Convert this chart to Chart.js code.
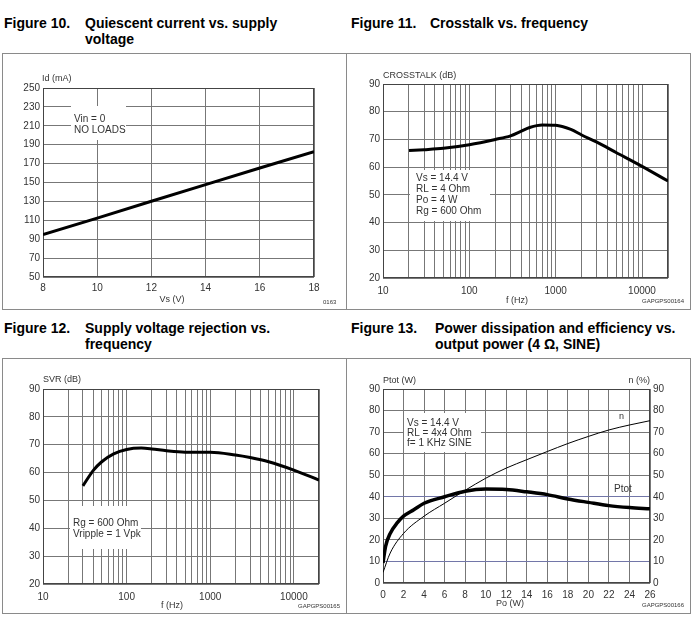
<!DOCTYPE html>
<html>
<head>
<meta charset="utf-8">
<script src="https://cdn.jsdelivr.net/npm/chart.js@4.4.1/dist/chart.umd.min.js"></script>
<style>
  body { margin: 0; background: #fff; width: 695px; height: 618px; position: relative; overflow: hidden;
         font-family: "Liberation Sans", Arial, sans-serif; }
  .title { position: absolute; font-weight: bold; font-size: 14px; line-height: 16px; color: #000; white-space: nowrap; }
  .panel { position: absolute; border: 1px solid #8a8a8a; box-sizing: border-box; }
  canvas { position: absolute; }
</style>
</head>
<body>
<div class="title" style="left:4px;top:15px">Figure 10.</div>
<div class="title" style="left:85px;top:15px">Quiescent current vs. supply<br>voltage</div>
<div class="title" style="left:351px;top:15px">Figure 11.</div>
<div class="title" style="left:430px;top:15px">Crosstalk vs. frequency</div>
<div class="title" style="left:4px;top:320px">Figure 12.</div>
<div class="title" style="left:85px;top:320px">Supply voltage rejection vs.<br>frequency</div>
<div class="title" style="left:351px;top:320px">Figure 13.</div>
<div class="title" style="left:435px;top:320px">Power dissipation and efficiency vs.<br>output power (4 &Omega;, SINE)</div>

<div class="panel" style="left:2px;top:53px;width:345px;height:257px"></div>
<div class="panel" style="left:346px;top:53px;width:345px;height:257px"></div>
<div class="panel" style="left:2px;top:358px;width:345px;height:256px"></div>
<div class="panel" style="left:346px;top:358px;width:345px;height:256px"></div>

<canvas id="fig10"></canvas>
<canvas id="fig11"></canvas>
<canvas id="fig12"></canvas>
<canvas id="fig13"></canvas>

<script>
// Figure 10 - quiescent current
const vsVolts = [8, 10, 12, 14, 16, 18];
const idCurrent = [95, 112.3, 130.2, 147.8, 165.3, 182.6];
const vsTicks = [8, 10, 12, 14, 16, 18];
const idTicks = [50, 70, 90, 110, 130, 150, 170, 190, 210, 230, 250];

// Figure 11 - crosstalk
const ctFreq = [20, 30, 50, 100, 200, 300, 400, 500, 700, 1000, 1500, 2000, 3000, 5000, 10000, 20000];
const ctDb = [66, 66.3, 66.8, 68.1, 70, 71.3, 73, 74.3, 75.2, 75.1, 73.6, 71.6, 69, 65.3, 60.3, 55];

// Figure 12 - SVR
const svrFreq = [30, 40, 50, 70, 100, 150, 200, 300, 500, 1000, 2000, 3000, 5000, 10000, 20000];
const svrDb = [55.2, 60.8, 63.8, 66.7, 68.3, 68.8, 68.5, 67.8, 67.3, 67.3, 66.3, 65.4, 63.9, 60.9, 57.3];

const dbTicks = [20, 30, 40, 50, 60, 70, 80, 90];
const decadeLabels = [10, 100, 1000, 10000];

// Figure 13 - dissipation / efficiency
const poWatts = [0, 0.25, 0.7, 1.4, 2, 3, 4, 6, 8, 10, 12, 14, 16, 18, 20, 22, 24, 26];
const ptotW = [9.3, 17, 23, 28, 31, 34, 37, 40, 42.6, 43.6, 43.4, 42.3, 41, 39, 37.4, 35.9, 35, 34.4];
const etaPo = [0, 0.7, 2, 4, 6, 8, 10, 12, 14, 16, 18, 20, 22, 24, 26];
const etaPct = [4.9, 13.9, 23, 31, 37, 43, 48.6, 53.3, 57.2, 61, 64.7, 68, 71, 73.3, 75.3];
const poTicks = [0, 2, 4, 6, 8, 10, 12, 14, 16, 18, 20, 22, 24, 26];
const pctTicks = [0, 10, 20, 30, 40, 50, 60, 70, 80, 90];

const FONT = '"Liberation Sans", Arial, sans-serif';
const GRID = '#777';
const FRAME = '#444';
const INK = '#333';

// grid lines 1..9 per decade, 10 .. 20000
const logGrid = [];
decadeLabels.forEach(d => {
  for (let m = 1; m <= 9; m++) if (d * m <= 20000) logGrid.push(d * m);
});

const pts = (xs, ys) => xs.map((x, i) => ({ x, y: ys[i] }));

const notes = {
  id: 'notes',
  beforeDatasetsDraw(chart, args, o) {
    const c = chart.ctx, a = chart.chartArea;
    c.save();
    c.fillStyle = '#fff';
    (o.boxes || []).forEach(b => c.fillRect(b[0] - o.ox, b[1] - o.oy, b[2] - b[0], b[3] - b[1]));
    c.strokeStyle = FRAME;
    c.lineWidth = 1;
    c.strokeRect(Math.round(a.left) + 0.5, Math.round(a.top) + 0.5,
                 Math.round(a.right - a.left) - 1, Math.round(a.bottom - a.top) - 1);
    c.restore();
  },
  afterDraw(chart, args, o) {
    const c = chart.ctx;
    c.save();
    c.textBaseline = 'middle';
    (o.texts || []).forEach(t => {
      c.font = (t.size || 10) + 'px ' + FONT;
      c.fillStyle = t.color || INK;
      c.textAlign = t.align || 'left';
      c.fillText(t.t, t.x - o.ox, t.y - o.oy);
    });
    c.restore();
  }
};

function plot(id, panel, area, datasets, scales, noteOpts) {
  const cv = document.getElementById(id);
  cv.style.left = panel.x + 'px';
  cv.style.top = panel.y + 'px';
  cv.width = panel.w;
  cv.height = panel.h;
  const L = area.l - panel.x, T = area.t - panel.y;
  const R = panel.x + panel.w - area.r, B = panel.y + panel.h - area.b;
  scales.x.afterFit = s => { s.height = B; s.paddingLeft = 0; s.paddingRight = 0; };
  scales.y.afterFit = s => { s.width = L; s.paddingTop = 0; s.paddingBottom = 0; };
  if (scales.y2) scales.y2.afterFit = s => { s.width = R; s.paddingTop = 0; s.paddingBottom = 0; };
  noteOpts.ox = panel.x;
  noteOpts.oy = panel.y;
  return new Chart(cv, {
    type: 'line',
    data: { datasets },
    options: {
      responsive: false,
      animation: false,
      devicePixelRatio: 1,
      layout: { padding: { left: 0, top: T, right: scales.y2 ? 0 : R, bottom: 0 } },
      elements: { point: { radius: 0 } },
      plugins: { legend: { display: false }, tooltip: { enabled: false }, notes: noteOpts },
      scales
    },
    plugins: [notes]
  });
}

Chart.defaults.font.family = FONT;
Chart.defaults.font.size = 10;
Chart.defaults.color = INK;

const linAxis = (min, max, ticks, pad, extra) => Object.assign({
  type: 'linear', min, max,
  afterBuildTicks: s => { s.ticks = ticks.map(v => ({ value: v })); },
  ticks: { padding: pad, autoSkip: false, maxRotation: 0, color: INK, font: { size: 10 } },
  grid: { color: GRID, drawTicks: false },
  border: { display: false }
}, extra || {});

const logAxis = (pad) => ({
  type: 'logarithmic', min: 10, max: 20000,
  afterBuildTicks: s => { s.ticks = logGrid.map(v => ({ value: v })); },
  ticks: {
    padding: pad, autoSkip: false, maxRotation: 0, color: INK, font: { size: 10 },
    callback: v => decadeLabels.includes(v) ? String(v) : ''
  },
  grid: { color: GRID, drawTicks: false },
  border: { display: false }
});

// Figure 10
plot('fig10', { x: 2, y: 53, w: 344, h: 256 }, { l: 43, t: 88, r: 314, b: 277 },
  [{ data: pts(vsVolts, idCurrent), borderColor: '#000', borderWidth: 3, tension: 0 }],
  { x: linAxis(8, 18, vsTicks, 5), y: linAxis(50, 250, idTicks, 3) },
  {
    boxes: [[71, 106, 126, 140]],
    texts: [
      { t: 'Id (mA)', x: 42, y: 79, size: 9 },
      { t: 'Vs (V)', x: 172, y: 300, size: 9, align: 'center' },
      { t: '0163', x: 323, y: 302, size: 6 },
      { t: 'Vin = 0', x: 74, y: 119 },
      { t: 'NO LOADS', x: 74, y: 130 }
    ]
  });

// Figure 11
plot('fig11', { x: 346, y: 53, w: 344, h: 256 }, { l: 383, t: 84, r: 668, b: 278 },
  [{ data: pts(ctFreq, ctDb), borderColor: '#000', borderWidth: 3, cubicInterpolationMode: 'monotone' }],
  { x: logAxis(7), y: linAxis(20, 90, dbTicks, 3) },
  {
    boxes: [[410, 170, 490, 221]],
    texts: [
      { t: 'CROSSTALK (dB)', x: 383, y: 76, size: 9 },
      { t: 'f (Hz)', x: 517, y: 301, size: 9, align: 'center' },
      { t: 'GAPGPS00164', x: 642, y: 301, size: 6 },
      { t: 'Vs = 14.4 V', x: 416, y: 178 },
      { t: 'RL = 4 Ohm', x: 416, y: 189 },
      { t: 'Po = 4 W', x: 416, y: 200 },
      { t: 'Rg = 600 Ohm', x: 416, y: 211 }
    ]
  });

// Figure 12
plot('fig12', { x: 2, y: 358, w: 344, h: 255 }, { l: 43, t: 389, r: 319, b: 584 },
  [{ data: pts(svrFreq, svrDb), borderColor: '#000', borderWidth: 3, cubicInterpolationMode: 'monotone' }],
  { x: logAxis(7), y: linAxis(20, 90, dbTicks, 3) },
  {
    boxes: [[70, 506, 141, 549]],
    texts: [
      { t: 'SVR (dB)', x: 43, y: 380, size: 9 },
      { t: 'f (Hz)', x: 172, y: 606, size: 9, align: 'center' },
      { t: 'GAPGPS00165', x: 298, y: 606, size: 6 },
      { t: 'Rg = 600 Ohm', x: 73, y: 523 },
      { t: 'Vripple = 1 Vpk', x: 73, y: 534 }
    ]
  });

// Figure 13
const p4Grid = linAxis(0, 90, pctTicks, 3);
p4Grid.grid = {
  drawTicks: false,
  color: ctx => (ctx.tick && (ctx.tick.value === 40 || ctx.tick.value === 10)) ? '#7276a8' : GRID
};
plot('fig13', { x: 346, y: 358, w: 344, h: 255 }, { l: 383, t: 389, r: 650, b: 583 },
  [
    { data: pts(poWatts, ptotW), borderColor: '#000', borderWidth: 3.5, cubicInterpolationMode: 'monotone', yAxisID: 'y' },
    { data: pts(etaPo, etaPct), borderColor: '#000', borderWidth: 1, cubicInterpolationMode: 'monotone', yAxisID: 'y2' }
  ],
  {
    x: linAxis(0, 26, poTicks, 6),
    y: p4Grid,
    y2: linAxis(0, 90, pctTicks, 3, { position: 'right', grid: { display: false, drawTicks: false } })
  },
  {
    boxes: [[404, 413, 481, 452]],
    texts: [
      { t: 'Ptot (W)', x: 383, y: 381, size: 9 },
      { t: 'n (%)', x: 650, y: 381, size: 9, align: 'right' },
      { t: 'Po (W)', x: 510, y: 604, size: 9, align: 'center' },
      { t: 'GAPGPS00166', x: 642, y: 605, size: 6 },
      { t: 'Vs = 14.4 V', x: 407, y: 423 },
      { t: 'RL = 4x4 Ohm', x: 407, y: 433 },
      { t: 'f= 1 KHz SINE', x: 407, y: 443 },
      { t: 'n', x: 619, y: 417, size: 9 },
      { t: 'Ptot', x: 614, y: 489 }
    ]
  });
</script>
</body>
</html>
